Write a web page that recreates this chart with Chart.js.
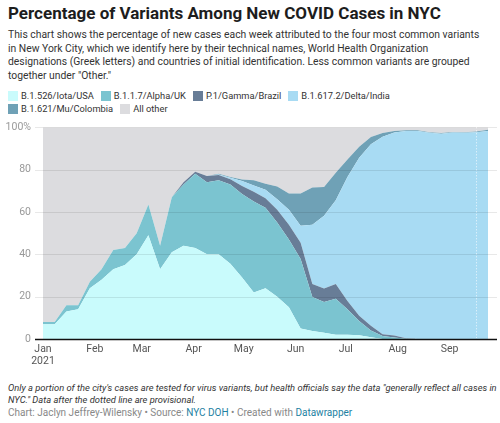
<!DOCTYPE html>
<html>
<head>
<meta charset="utf-8">
<script src="https://cdn.jsdelivr.net/npm/chart.js@4"></script>
<style>
  body { margin: 0; width: 500px; height: 423px; background: #fff; font-family: Roboto, sans-serif; color: #333; position: relative; overflow: hidden; }
  h1 { position: absolute; left: 8px; top: 3px; margin: 0; font-size: 17px; font-weight: 700; color: #1d1d1d; white-space: nowrap; }
  .desc { position: absolute; left: 8px; top: 28px; font-size: 10.35px; line-height: 13.6px; color: #333; white-space: nowrap; }
  .legend { position: absolute; left: 8px; top: 89px; font-size: 9.3px; color: #333; }
  .row { display: flex; height: 13px; align-items: center; }
  .item { display: flex; align-items: center; margin-right: 7px; }
  .sw { width: 10px; height: 10px; margin-right: 3px; }
  #wrap { position: absolute; left: 0; top: 109px; width: 500px; height: 265px; }
  .notes { position: absolute; left: 8px; top: 382px; font-size: 9.35px; line-height: 11.8px; font-style: italic; color: #333; white-space: nowrap; }
  .credit { position: absolute; left: 8px; top: 407px; font-size: 10px; color: #888; white-space: nowrap; }
  .credit a { color: #1d81a2; text-decoration: none; }
</style>
</head>
<body>
<h1>Percentage of Variants Among New COVID Cases in NYC</h1>
<div class="desc">This chart shows the percentage of new cases each week attributed to the four most common variants<br>in New York City, which we identify here by their technical names, World Health Organization<br>designations (Greek letters) and countries of initial identification. Less common variants are grouped<br>together under "Other."</div>
<div class="legend" id="legend"></div>
<div id="wrap"><canvas id="myChart"></canvas></div>
<div class="notes">Only a portion of the city's cases are tested for virus variants, but health officials say the data "generally reflect all cases in<br>NYC." Data after the dotted line are provisional.</div>
<div class="credit">Chart: Jaclyn Jeffrey-Wilensky • Source: <a>NYC DOH</a> • Created with <a>Datawrapper</a></div>

<script>
// weekly points, days since Jan 1 2021
const weekDays = [0, 7, 14, 21, 28, 35, 42, 49, 56, 63, 70, 77, 84, 91, 98, 105, 112, 119, 126, 133,
                  140, 147, 154, 161, 168, 175, 182, 189, 196, 203, 210, 217, 224, 231, 238, 245, 252, 259, 266];

const iota  = [7, 7, 13, 14, 24, 28, 33, 35, 40, 49, 33, 41, 44, 43, 40, 40, 35.5, 29, 22, 24,
               20, 15, 5, 3.8, 3, 2, 2, 1.8, 0.8, 0, 0, 0, 0, 0, 0, 0, 0, 0, 0];
const alpha = [1, 1, 3, 2, 3, 5, 9, 8, 10, 14.5, 11, 26, 29, 35, 34, 35, 37.5, 39.5, 43, 38,
               35, 32, 32.8, 16, 14.5, 17, 12, 6.7, 3.2, 1.4, 0.7, 0.1, 0, 0, 0, 0, 0, 0, 0];
const gamma = [0, 0, 0, 0, 0, 0, 0, 0, 0, 0, 0, 0, 1, 1, 3, 2.5, 2.5, 3.8, 4.5, 4.5,
               6, 7, 7.7, 6.2, 6.3, 7, 4, 2.5, 2.2, 0.8, 1, 0.2, 0, 0, 0, 0, 0, 0, 0];
const delta = [0, 0, 0, 0, 0, 0, 0, 0, 0, 0, 0, 0, 0, 0, 0, 0.2, 0.7, 2.3, 3, 4,
               5, 7, 8, 28, 34.4, 39.5, 58.5, 74.6, 85.8, 93.3, 95.8, 98, 98.3, 97.4, 97, 97.5, 97.4, 97.7, 98.2];
const mu    = [0, 0, 0, 0, 0, 0, 0, 0, 0, 0, 0, 0, 0, 0, 0, 0.3, 0.3, 0.8, 2.5, 2.8,
               6, 7.7, 15.2, 17.6, 13.6, 13, 8.3, 5.2, 3.4, 1.8, 0.8, 0.3, 0.3, 0.3, 0.3, 0.3, 0.3, 0.3, 0.7];
const other = [92, 92, 84, 84, 73, 67, 58, 57, 50, 36.5, 56, 33, 26, 21, 23, 22, 23.5, 24.6, 25, 26.7,
               28, 31.3, 31.3, 28.4, 28.2, 21.5, 15.2, 9.2, 4.6, 2.7, 1.7, 1.4, 1.4, 2.3, 2.7, 2.2, 2.3, 2, 1.1];

const seriesNames = ['B.1.526/Iota/USA', 'B.1.1.7/Alpha/UK', 'P.1/Gamma/Brazil', 'B.1.617.2/Delta/India', 'B.1.621/Mu/Colombia', 'All other'];
const seriesColors = ['#c9fbfc', '#7bc4d0', '#687d97', '#a8dbf3', '#6fa1b6', '#dcdcdf'];

const monthStarts = [0, 31, 59, 90, 120, 151, 181, 212, 243];
const monthNames = ['Jan', 'Feb', 'Mar', 'Apr', 'May', 'Jun', 'Jul', 'Aug', 'Sep'];
const yTicks = [0, 20, 40, 60, 80, 100];
const provisionalFrom = 259;

// html legend, two rows like the original
const legend = document.getElementById('legend');
[[0, 1, 2, 3], [4, 5]].forEach(idx => {
    const row = document.createElement('div');
    row.className = 'row';
    idx.forEach(i => {
        row.innerHTML += `<div class="item"><div class="sw" style="background:${seriesColors[i]}"></div>${seriesNames[i]}</div>`;
    });
    legend.appendChild(row);
});

const allSeries = [iota, alpha, gamma, delta, mu, other];
const datasets = allSeries.map((vals, i) => ({
    label: seriesNames[i],
    data: vals.map((v, k) => ({ x: weekDays[k], y: v })),
    backgroundColor: seriesColors[i],
    borderWidth: 0,
    pointRadius: 0,
    tension: 0,
    fill: i === 0 ? 'origin' : '-1'
}));

// gridlines sit on top of the areas, plus the dotted provisional line
const overlay = {
    id: 'overlay',
    afterDatasetsDraw(c) {
        const { ctx, chartArea: a, scales: { x, y } } = c;
        ctx.save();
        yTicks.forEach(t => {
            const py = Math.round(y.getPixelForValue(t)) + 0.5;
            ctx.beginPath();
            ctx.moveTo(a.left - 8, py);
            ctx.lineTo(a.right + 9, py);
            if (t === 0) {
                ctx.strokeStyle = '#111';
                ctx.lineWidth = 1.5;
            } else {
                ctx.strokeStyle = 'rgba(0,0,0,0.09)';
                ctx.lineWidth = 1;
            }
            ctx.stroke();
        });
        const px = Math.round(x.getPixelForValue(provisionalFrom)) + 0.5;
        ctx.setLineDash([1, 2]);
        ctx.strokeStyle = 'rgba(255,255,255,0.8)';
        ctx.lineWidth = 1;
        ctx.beginPath();
        ctx.moveTo(px, a.top);
        ctx.lineTo(px, a.bottom - 1);
        ctx.stroke();
        ctx.restore();
    }
};

new Chart(document.getElementById('myChart'), {
    type: 'line',
    data: { datasets },
    options: {
        responsive: true,
        maintainAspectRatio: false,
        animation: false,
        layout: { padding: { top: 0, right: 12, left: 0, bottom: 0 } },
        plugins: { legend: { display: false }, tooltip: { enabled: false } },
        scales: {
            x: {
                type: 'linear',
                min: 0,
                max: 266,
                grid: { display: false, drawTicks: false },
                border: { display: false },
                afterBuildTicks: s => { s.ticks = monthStarts.map(v => ({ value: v })); },
                afterFit: s => { s.height = 35; },
                ticks: {
                    autoSkip: false,
                    maxRotation: 0,
                    padding: 4,
                    color: '#555',
                    font: { family: 'Roboto', size: 10.5, lineHeight: 1.15 },
                    callback: v => {
                        const m = monthNames[monthStarts.indexOf(v)];
                        return v === 0 ? [m, '2021'] : m;
                    }
                }
            },
            y: {
                stacked: true,
                min: 0,
                max: 100,
                grid: { display: false, drawTicks: false },
                border: { display: false },
                afterBuildTicks: s => { s.ticks = yTicks.map(v => ({ value: v })); },
                afterFit: s => { s.width = 43; },
                ticks: {
                    padding: 12,
                    color: '#999',
                    font: { family: 'Roboto', size: 10.5 },
                    callback: v => v === 100 ? '100%' : v
                }
            }
        }
    },
    plugins: [overlay]
});
</script>
</body>
</html>
